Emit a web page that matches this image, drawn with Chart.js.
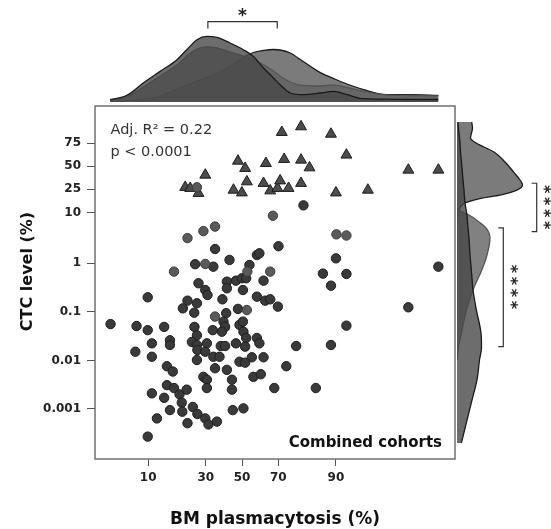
<!DOCTYPE html>
<html><head><meta charset="utf-8">
<script src="https://cdn.jsdelivr.net/npm/chart.js@4.4.1/dist/chart.umd.min.js"></script>
<style>
html,body{margin:0;padding:0;background:#fff;}
#wrap{position:relative;width:551px;height:529px;overflow:hidden;background:#fff;}
#wrap canvas{position:absolute;}
</style></head><body>
<div id="wrap">
<canvas id="main" width="551" height="529" style="left:0;top:0"></canvas>
<canvas id="topd" width="360" height="74" style="left:95px;top:28px"></canvas>
<canvas id="rightd" width="80" height="353" style="left:457px;top:106px"></canvas>
</div>
<script>
// ---------- data ----------
const xTickValues = [10, 30, 50, 70, 90];
const xTickLabels = ['10', '30', '50', '70', '90'];
const yTickValues = [0.001, 0.01, 0.1, 1, 10, 25, 50, 75];
const yTickLabels = ['0.001', '0.01', '0.1', '1', '10', '25', '50', '75'];

// triangles (BM plasmacytosis %, CTC level %)
const triBM  = [71.7,79.9,88.9,47.6,51.8,63.6,72.8,79.9,82.9,92.0,98.0,99.0,29.7,20.9,22.9,26.5,45.0,49.9,52.8,62.3,65.9,69.6,70.9,74.8,79.9,90.0,95.0];
const triCTC = [83.3,86.7,82.1,56.1,47.5,53.4,58.1,57.3,48.2,63.0,45.5,45.5,39.7,26.9,26.0,21.7,24.4,22.1,32.4,30.8,23.8,26.0,33.4,26.0,30.8,22.1,24.4];

// dark circles
const darkBM = [80.8,70.1,34.7,58.6,60.0,42.7,25.0,33.8,54.3,90.0,99.0,86.9,92.0,88.9,98.0,92.0,78.0,88.9,84.9,68.0,
  73.8,26.5,29.7,30.8,41.2,41.2,46.4,49.9,52.4,50.5,62.3,58.6,63.2,65.9,69.8,9.9,21.8,25.8,20.0,24.6,
  38.7,47.6,40.8,39.3,40.2,38.4,33.5,4.4,7.8,9.9,13.9,24.7,25.8,23.6,15.6,15.6,10.8,7.6,10.8,25.8,
  26.0,30.5,29.7,25.8,33.8,37.1,37.8,40.2,46.4,48.5,50.5,50.8,52.4,51.8,58.6,60.0,62.3,55.7,48.5,51.8,
  14.7,16.5,34.7,28.8,30.5,30.5,41.2,44.1,44.1,56.6,60.8,14.7,16.9,18.8,21.5,10.8,13.9,19.6,15.6,19.8,
  24.0,26.0,29.7,31.3,35.7,44.6,50.8,12.0,21.8,9.9];
const darkCTC = [13.5,2.2,1.93,1.46,1.58,1.16,0.95,0.845,0.915,1.25,0.845,0.61,0.60,0.345,0.124,0.052,0.0198,0.0208,0.0027,0.0027,
  0.0076,0.387,0.281,0.222,0.417,0.305,0.437,0.49,0.49,0.281,0.437,0.205,0.170,0.181,0.128,0.199,0.170,0.150,0.118,0.096,
  0.181,0.115,0.094,0.063,0.049,0.039,0.042,0.056,0.051,0.042,0.049,0.049,0.033,0.024,0.026,0.0208,0.0225,0.0151,0.0119,0.0208,
  0.0164,0.0225,0.0151,0.0102,0.0119,0.0119,0.0198,0.0198,0.0225,0.054,0.063,0.039,0.029,0.0192,0.029,0.0225,0.0116,0.0116,0.0094,0.0090,
  0.0076,0.0059,0.0069,0.0046,0.0040,0.0027,0.0064,0.0040,0.0025,0.0046,0.0052,0.0031,0.0027,0.0020,0.0025,0.0021,0.0017,0.00135,0.00095,0.00088,
  0.0011,0.00079,0.00064,0.00048,0.00055,0.00095,0.00103,0.00064,0.00051,0.00027];

// lighter circles
const lightBM  = [67.3,34.7,28.8,21.8,90.1,92.0,29.7,16.9,65.9,53.1,34.7,52.8,25.8];
const lightCTC = [8.7,5.4,4.4,3.2,3.8,3.6,0.96,0.67,0.67,0.67,0.080,0.109,26.9];

// top marginal densities (relative density along BM plasmacytosis %)
const topDensBM = [4.35,6.3,9.0,12.8,17.9,21.5,25.8,30.5,35.7,43.1,50.8,56.6,62.3,67.6,70.9,75.5,80.7,86.2,89.4,92.1,94.5,96.7,98.1,99.0];
const topDensA = [0.023,0.066,0.19,0.306,0.423,0.523,0.623,0.656,0.646,0.59,0.523,0.456,0.34,0.24,0.173,0.09,0.073,0.09,0.106,0.073,0.033,0.028,0.025,0.025];
const topDensB = [0.015,0.05,0.15,0.26,0.37,0.46,0.53,0.55,0.54,0.50,0.46,0.42,0.373,0.31,0.26,0.20,0.165,0.16,0.17,0.145,0.105,0.07,0.065,0.06];
const topDensC = [0.003,0.01,0.025,0.06,0.13,0.17,0.21,0.245,0.285,0.36,0.45,0.495,0.515,0.525,0.52,0.49,0.405,0.294,0.237,0.18,0.124,0.073,0.073,0.066];

// right marginal densities (relative density along CTC level %)
const rightDensCTC = [89.0,85.9,79.2,75.0,66.2,55.0,43.2,34.2,29.1,24.4,20.3,18.1,14.9,12.1,10.2,9.0,6.6,5.1,3.2,1.46,0.66,0.357,0.281,0.109,0.0367,0.0189,0.0102,0.0040,0.00153,0.00059,0.0002];
const rightDensA = [0.01,0.015,0.025,0.03,0.035,0.045,0.053,0.06,0.065,0.07,0.073,0.076,0.08,0.088,0.095,0.10,0.105,0.11,0.12,0.13,0.145,0.155,0.16,0.194,0.24,0.245,0.225,0.20,0.15,0.10,0.044];
const rightDensB = [null,null,null,null,null,null,null,null,null,null,null,null,null,0.01,0.05,0.12,0.22,0.29,0.33,0.30,0.24,0.18,0.16,0.094,0.044,0.015,0.004,null,null,null,null];
const rightDensC = [0.147,0.155,0.135,0.19,0.37,0.48,0.565,0.63,0.655,0.60,0.43,0.25,0.08,0.03,0.015,0.01,0.005,null,null,null,null,null,null,null,null,null,null,null,null,null,null];

// ---------- logit scale ----------
const logit = p => Math.log(p / (100 - p));
class LogitScale extends Chart.Scale {
  static id = 'logit';
  static defaults = {};
  determineDataLimits() { this.min = this.options.min; this.max = this.options.max; }
  buildTicks() {
    const vals = (this.options.ticks && this.options.ticks.values) || [];
    const out = [];
    for (let i = 0; i < vals.length; i++) out.push({value: vals[i]});
    return out;
  }
  getLabelForValue(v) { return String(v); }
  getPixelForValue(v) {
    const a = logit(this.min), b = logit(this.max);
    return this.getPixelForDecimal((logit(v) - a) / (b - a));
  }
  getValueForPixel(px) {
    const a = logit(this.min), b = logit(this.max);
    const l = a + this.getDecimalForPixel(px) * (b - a);
    return 100 / (1 + Math.exp(-l));
  }
}
Chart.register(LogitScale);

const xMin = 3.1, xMax = 99.32;
const yMin = 0.0000934, yMax = 94.55;

const FONT = 'DejaVu Sans';

function drawStar(ctx, cx, cy, rot, size) {
  ctx.save();
  ctx.translate(cx, cy);
  ctx.rotate(rot);
  ctx.font = 'bold ' + size + 'px "' + FONT + '"';
  ctx.textAlign = 'left';
  ctx.textBaseline = 'alphabetic';
  const m = ctx.measureText('*');
  const L = m.actualBoundingBoxLeft, R = m.actualBoundingBoxRight;
  const A = m.actualBoundingBoxAscent, D = m.actualBoundingBoxDescent;
  ctx.fillStyle = '#222';
  ctx.fillText('*', -(R - L) / 2, (A - D) / 2);
  ctx.restore();
}

const annot = {
  id: 'annot',
  afterDraw(chart) {
    const ctx = chart.ctx, ca = chart.chartArea;
    const xs = chart.scales.x, ys = chart.scales.y;
    ctx.save();
    // plot frame
    ctx.strokeStyle = '#707070';
    ctx.lineWidth = 1.5;
    ctx.strokeRect(ca.left, ca.top, ca.right - ca.left, ca.bottom - ca.top);

    // stats text
    ctx.fillStyle = '#333';
    ctx.font = '14.5px "' + FONT + '"';
    ctx.textAlign = 'left';
    ctx.textBaseline = 'alphabetic';
    ctx.fillText('Adj. R\u00B2 = 0.22', 110.5, 134);
    ctx.fillText('p < 0.0001', 110.5, 156);

    // cohort label
    ctx.fillStyle = '#111';
    ctx.font = 'bold 15px "' + FONT + '"';
    ctx.textAlign = 'right';
    ctx.fillText('Combined cohorts', 442, 447);

    // axis titles
    ctx.font = 'bold 17px "' + FONT + '"';
    ctx.textAlign = 'center';
    ctx.fillText('BM plasmacytosis (%)', (ca.left + ca.right) / 2, 524);
    ctx.save();
    ctx.translate(28, 271.5);
    ctx.rotate(-Math.PI / 2);
    ctx.font = 'bold 16px "' + FONT + '"';
    ctx.textBaseline = 'middle';
    ctx.fillText('CTC level (%)', 0, 0);
    ctx.restore();

    // top bracket
    ctx.strokeStyle = '#333';
    ctx.lineWidth = 1.2;
    const bx1 = xs.getPixelForValue(31), bx2 = xs.getPixelForValue(69.5);
    ctx.beginPath();
    ctx.moveTo(bx1, 28.5); ctx.lineTo(bx1, 21.7); ctx.lineTo(bx2, 21.7); ctx.lineTo(bx2, 28.5);
    ctx.stroke();
    drawStar(ctx, (bx1 + bx2) / 2, 12.7, 0, 17);

    // right brackets
    const r1a = ys.getPixelForValue(30.8), r1b = ys.getPixelForValue(4.28);
    ctx.beginPath();
    ctx.moveTo(531.7, r1a); ctx.lineTo(536.7, r1a); ctx.lineTo(536.7, r1b); ctx.lineTo(531.7, r1b);
    ctx.stroke();
    const r2a = ys.getPixelForValue(5.1), r2b = ys.getPixelForValue(0.0192);
    ctx.beginPath();
    ctx.moveTo(498.3, r2a); ctx.lineTo(503.3, r2a); ctx.lineTo(503.3, r2b); ctx.lineTo(498.3, r2b);
    ctx.stroke();
    const m1 = (r1a + r1b) / 2, m2 = (r2a + r2b) / 2;
    for (let k = 0; k < 4; k++) {
      drawStar(ctx, 546.5, m1 + (k - 1.5) * 12, Math.PI / 2, 16);
      drawStar(ctx, 514, m2 + (k - 1.5) * 12, Math.PI / 2, 16);
    }
    ctx.restore();
  }
};

const pts = (xa, ya) => xa.map((x, i) => ({x: x, y: ya[i]}));

new Chart(document.getElementById('main'), {
  type: 'scatter',
  data: {
    datasets: [
      {label: 'light', data: pts(lightBM, lightCTC), pointStyle: 'circle', pointRadius: 4.7,
       backgroundColor: '#5a5a5a', borderColor: '#3c3c3c', borderWidth: 1},
      {label: 'dark', data: pts(darkBM, darkCTC), pointStyle: 'circle', pointRadius: 4.7,
       backgroundColor: '#3a3a3a', borderColor: '#1e1e1e', borderWidth: 1},
      {label: 'tri', data: pts(triBM, triCTC), pointStyle: 'triangle', pointRadius: 6.3,
       backgroundColor: '#4c4c4c', borderColor: '#1c1c1c', borderWidth: 1}
    ]
  },
  options: {
    responsive: false, animation: false, events: [],
    layout: {padding: {left: 0, top: 106, right: 96, bottom: 0}},
    plugins: {legend: {display: false}, tooltip: {enabled: false}},
    scales: {
      x: {type: 'logit', position: 'bottom', min: xMin, max: xMax,
          afterFit(s) { s.height = 70; },
          grid: {drawOnChartArea: false, drawTicks: true, tickLength: 7, color: '#555', lineWidth: 1},
          border: {display: false},
          ticks: {values: xTickValues, callback: (v, i) => xTickLabels[i], autoSkip: false, maxRotation: 0,
                  padding: 5, color: '#222', font: {family: FONT, size: 12, weight: 'bold'}}},
      y: {type: 'logit', position: 'left', min: yMin, max: yMax,
          afterFit(s) { s.width = 95; },
          grid: {drawOnChartArea: false, drawTicks: true, tickLength: 8, color: '#555', lineWidth: 1},
          border: {display: false},
          ticks: {values: yTickValues, callback: (v, i) => yTickLabels[i], autoSkip: false,
                  padding: 6, color: '#222', font: {family: FONT, size: 12, weight: 'bold'}}}
    }
  },
  plugins: [annot]
});

const densStyle = [
  {bg: 'rgba(72,72,72,0.8)', bc: '#1a1a1a'},
  {bg: 'rgba(98,98,98,0.8)', bc: '#555'},
  {bg: 'rgba(100,100,100,0.85)', bc: '#1a1a1a'}
];
function densDs(data, k) {
  return {data: data, fill: 'origin', backgroundColor: densStyle[k].bg, borderColor: densStyle[k].bc,
          borderWidth: 1.3, pointRadius: 0, cubicInterpolationMode: 'monotone', spanGaps: false};
}

new Chart(document.getElementById('topd'), {
  type: 'line',
  data: {datasets: [
    densDs(topDensBM.map((x, i) => ({x: x, y: topDensA[i]})), 0),
    densDs(topDensBM.map((x, i) => ({x: x, y: topDensB[i]})), 1),
    densDs(topDensBM.map((x, i) => ({x: x, y: topDensC[i]})), 2)
  ]},
  options: {
    responsive: false, animation: false, events: [],
    layout: {padding: 0},
    plugins: {legend: {display: false}, tooltip: {enabled: false}},
    scales: {
      x: {type: 'logit', min: xMin, max: xMax, display: false, ticks: {values: xTickValues}},
      y: {type: 'linear', min: 0, max: 0.74, display: false}
    }
  }
});

new Chart(document.getElementById('rightd'), {
  type: 'line',
  data: {datasets: [
    densDs(rightDensCTC.map((y, i) => ({x: rightDensA[i], y: y})), 0),
    densDs(rightDensCTC.map((y, i) => ({x: rightDensB[i], y: y})), 1),
    densDs(rightDensCTC.map((y, i) => ({x: rightDensC[i], y: y})), 2)
  ]},
  options: {
    indexAxis: 'y',
    responsive: false, animation: false, events: [],
    layout: {padding: 0},
    plugins: {legend: {display: false}, tooltip: {enabled: false}},
    scales: {
      y: {type: 'logit', min: yMin, max: yMax, display: false, ticks: {values: yTickValues}},
      x: {type: 'linear', min: 0, max: 0.80, display: false}
    }
  }
});
</script>
</body></html>
